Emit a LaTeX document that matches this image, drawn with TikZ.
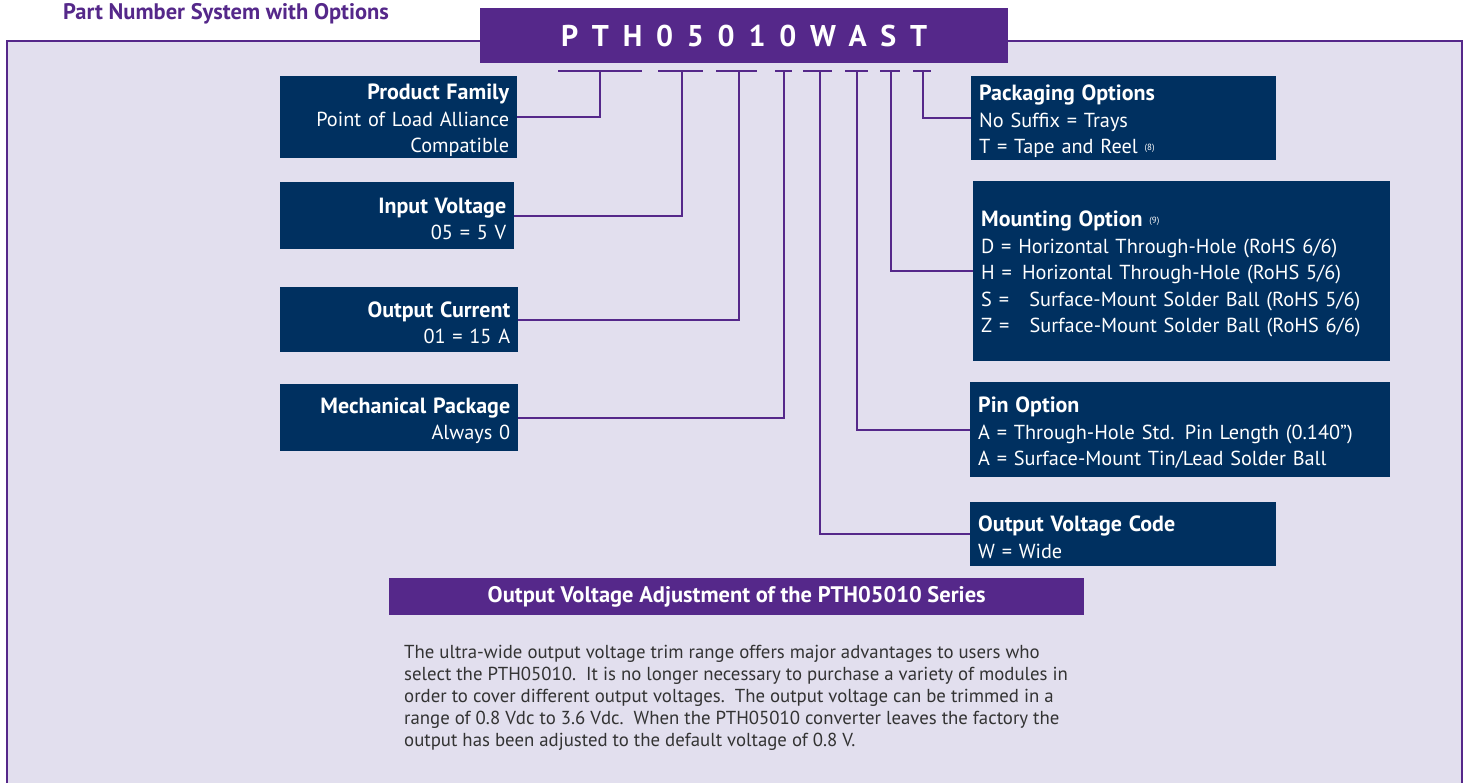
\documentclass[tikz,border=0pt]{standalone}
\usepackage{fontspec}
\setmainfont{PT Sans}
\usetikzlibrary{positioning}
\definecolor{pnpurple}{RGB}{85,40,138}
\definecolor{pnnavy}{RGB}{0,48,96}
\definecolor{pnlav}{RGB}{226,223,238}
\definecolor{pngray}{RGB}{51,51,51}
\tikzset{
	infol/.style={fill=pnnavy, text=white, anchor=north west, inner xsep=8pt, inner ysep=0pt, align=left, font=\fontsize{20.3}{26.5}\selectfont},
	infor/.style={infol, align=right},
	link/.style={draw=pnpurple, line width=2pt},
}
\newcommand{\hd}[1]{{\fontsize{22}{26.5}\selectfont\bfseries\rule{0pt}{22pt}#1}}
\newcommand{\fnref}[1]{{\fontsize{9}{9}\selectfont\raisebox{3pt}{ (#1)}}}

\begin{document}
\begin{tikzpicture}[x=1pt, y=-1pt]
			%%%%% START %%%%%
			\useasboundingbox (0,0) rectangle (1467,782);
			\clip (0,0) rectangle (1467,782);
			
			\draw[pnpurple, line width=2pt, fill=pnlav] (7,800) -- (7,41) -- (1462,41) -- (1462,800);
			
			\node[anchor=west, text=pnpurple, inner sep=0pt, font=\fontsize{22.5}{22.5}\selectfont\bfseries] (title) at (63,14) {Part Number System with Options};
			\node[fill=pnpurple, text=white, anchor=north west, minimum width=528pt, minimum height=55pt, inner sep=0pt, font=\fontsize{30}{30}\selectfont\bfseries\addfontfeature{LetterSpace=46}] (pn) at (480,8) {PTH05010WAST};
			
			% code marks under the part number
			\foreach \i/\a/\b/\m in {1/558/642/600, 2/658/703/682, 3/716/757/739, 4/775/792/784, 5/803/832/820, 6/845/868/857, 7/880/900/891, 8/913/931/923}{
				\draw[link] (\a,71) -- (\b,71);
				\coordinate (t\i) at (\m,71);
			}
			
			% left column
			\node[infor, text width=221pt, minimum height=82pt] (pf) at (280,76) {\hd{Product Family}\\Point of Load Alliance\\Compatible};
			\node[infor, text width=218pt, minimum height=67pt] (iv) at (280,182) {\hd{Input Voltage}\\05 = 5 V};
			\node[infor, text width=222pt, minimum height=65pt] (oc) at (280,287) {\hd{Output Current}\\01 = 15 A};
			\node[infor, text width=222pt, minimum height=67pt] (mp) at (280,384) {\hd{Mechanical Package}\\Always 0};
			
			% right column
			\node[infol, text width=289pt, minimum height=84pt] (pk) at (971,76) {\hd{Packaging Options}\\No Suffix = Trays\\T = Tape and Reel\fnref{8}};
			\node[infol, text width=401pt, minimum height=180pt] (mo) at (973,181) {\hd{Mounting Option}\fnref{9}\\D = Horizontal Through-Hole (RoHS 6/6)\\H =\hspace{0.5em}Horizontal Through-Hole (RoHS 5/6)\\S =\hspace{1em}Surface-Mount Solder Ball (RoHS 5/6)\\Z =\hspace{1em}Surface-Mount Solder Ball (RoHS 6/6)};
			\node[infol, text width=404pt, minimum height=95pt] (pin) at (970,382) {\hd{Pin Option}\\A = Through-Hole Std. Pin Length (0.140”)\\A = Surface-Mount Tin/Lead Solder Ball};
			\node[infol, text width=290pt, minimum height=64pt] (ovc) at (970,502) {\hd{Output Voltage Code}\\W = Wide};
			
			\draw[link] (t1) |- (pf.east);
			\draw[link] (t2) |- (iv.east);
			\draw[link] (t3) |- (oc.east);
			\draw[link] (t4) |- (mp.east);
			\draw[link] (t5) |- (ovc.west);
			\draw[link] (t6) |- (pin.west);
			\draw[link] (t7) |- (mo.west);
			\draw[link] (t8) |- (pk.west);
			
			\node[fill=pnpurple, text=white, anchor=north west, minimum width=695pt, minimum height=37pt, inner sep=0pt, font=\fontsize{22.5}{22.5}\selectfont\bfseries] (adj) at (389,578) {Output Voltage Adjustment of the PTH05010 Series};
			\node[anchor=north west, text=pngray, align=left, inner sep=0pt, font=\fontsize{18.8}{22}\selectfont] (note) at (404,645) {The ultra-wide output voltage trim range offers major advantages to users who\\select the PTH05010.\ \ It is no longer necessary to purchase a variety of modules in\\order to cover different output voltages.\ \ The output voltage can be trimmed in a\\range of 0.8 Vdc to 3.6 Vdc.\ \ When the PTH05010 converter leaves the factory the\\output has been adjusted to the default voltage of 0.8 V.};
			%%%%% END %%%%%
\end{tikzpicture}
\end{document}
